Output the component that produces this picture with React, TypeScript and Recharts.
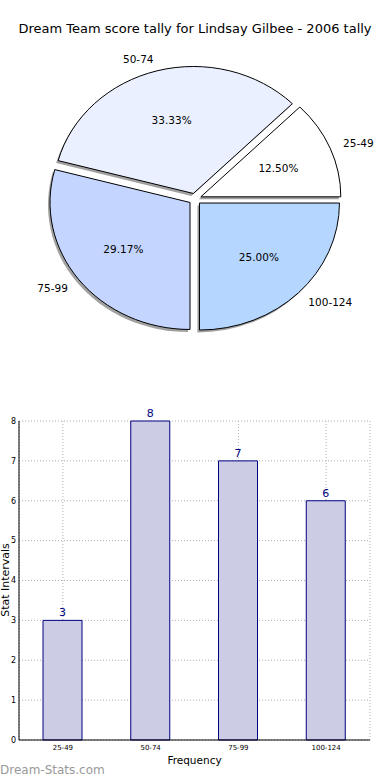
import {
  PieChart,
  Pie,
  BarChart,
  Bar,
  XAxis,
  YAxis,
  CartesianGrid,
  LabelList,
} from "recharts";

const categories = ["25-49", "50-74", "75-99", "100-124"];
const counts = [3, 8, 7, 6];
const pieColors = ["#ffffff", "#eaf0ff", "#c4d6ff", "#b4d6ff"];
const yTicks = [0, 1, 2, 3, 4, 5, 6, 7, 8];

const pieData = categories.map((name, i) => ({
  name,
  value: counts[i],
  fill: pieColors[i],
}));
const barData = categories.map((name, i) => ({ name, value: counts[i] }));

const FONT = "'DejaVu Sans', sans-serif";
const RAD = Math.PI / 180;
const SQUASH = 127 / 140; // pie is drawn slightly flattened
const EXPLODE = 0.045;

function wedgePath(p: any, shiftX = 0, shiftY = 0) {
  const rx = p.outerRadius;
  const ry = p.outerRadius * SQUASH;
  const mid = ((p.startAngle + p.endAngle) / 2) * RAD;
  const cx = p.cx + EXPLODE * rx * Math.cos(mid) + shiftX;
  const cy = p.cy - EXPLODE * ry * Math.sin(mid) + shiftY;
  const a0 = p.startAngle * RAD;
  const a1 = p.endAngle * RAD;
  const x0 = cx + rx * Math.cos(a0);
  const y0 = cy - ry * Math.sin(a0);
  const x1 = cx + rx * Math.cos(a1);
  const y1 = cy - ry * Math.sin(a1);
  const large = p.endAngle - p.startAngle > 180 ? 1 : 0;
  return `M${cx},${cy} L${x0},${y0} A${rx},${ry} 0 ${large} 0 ${x1},${y1} Z`;
}

const Wedge = (p: any) => (
  <path d={wedgePath(p)} fill={p.fill} stroke="#000" strokeWidth={1} />
);

const Shadow = (p: any) => (
  <path d={wedgePath(p, -2, 2.5)} fill="#6e6e6e" fillOpacity={0.65} />
);

const renderLabel = (p: any) => {
  const rx = p.outerRadius;
  const ry = p.outerRadius * SQUASH;
  const mid = p.midAngle * RAD;
  const cx = p.cx + EXPLODE * rx * Math.cos(mid);
  const cy = p.cy - EXPLODE * ry * Math.sin(mid);
  const lx = cx + 1.1 * rx * Math.cos(mid);
  const ly = cy - 1.1 * ry * Math.sin(mid);
  const px = cx + 0.6 * rx * Math.cos(mid);
  const py = cy - 0.6 * ry * Math.sin(mid);
  return (
    <g key={p.name}>
      <text
        x={lx}
        y={ly}
        textAnchor={Math.cos(mid) > 0 ? "start" : "end"}
        dominantBaseline="central"
        fontSize={10.5}
        fontFamily={FONT}
        fill="#000"
      >
        {p.name}
      </text>
      <text
        x={px}
        y={py}
        textAnchor="middle"
        dominantBaseline="central"
        fontSize={10.5}
        fontFamily={FONT}
        fill="#000"
      >
        {(p.percent * 100).toFixed(2)}%
      </text>
    </g>
  );
};

export default function App() {
  return (
    <div
      style={{
        position: "absolute",
        left: 0,
        top: 0,
        width: 390,
        height: 780,
        background: "#fff",
        overflow: "hidden",
        fontFamily: FONT,
      }}
    >
      <div
        style={{
          position: "absolute",
          left: 0,
          top: 21,
          width: 390,
          textAlign: "center",
          fontSize: 13,
          color: "#000",
        }}
      >
        Dream Team score tally for Lindsay Gilbee - 2006 tally
      </div>

      <div style={{ position: "absolute", left: 0, top: 40 }}>
        <PieChart width={390} height={330}>
          <Pie
            data={pieData}
            dataKey="value"
            nameKey="name"
            cx={190}
            cy={154}
            outerRadius={140}
            startAngle={0}
            endAngle={360}
            stroke="none"
            shape={Shadow}
            isAnimationActive={false}
          />
          <Pie
            data={pieData}
            dataKey="value"
            nameKey="name"
            cx={190}
            cy={154}
            outerRadius={140}
            startAngle={0}
            endAngle={360}
            shape={Wedge}
            label={renderLabel}
            labelLine={false}
            isAnimationActive={false}
          />
        </PieChart>
      </div>

      <div
        style={{
          position: "absolute",
          left: 5,
          top: 580,
          transform: "translate(-50%, -50%) rotate(-90deg)",
          fontSize: 11,
          whiteSpace: "nowrap",
          color: "#000",
        }}
      >
        Stat Intervals
      </div>

      <div style={{ position: "absolute", left: 0, top: 400 }}>
        <BarChart
          width={390}
          height={380}
          data={barData}
          margin={{ top: 21, right: 20, left: 7, bottom: 10 }}
          barCategoryGap={0}
        >
          <CartesianGrid stroke="#b0b0b0" strokeDasharray="1 2" />
          <XAxis
            dataKey="name"
            height={30}
            tick={{ fontSize: 7, fill: "#000", fontFamily: FONT }}
            tickLine={false}
            tickSize={0}
            tickMargin={5}
            axisLine={{ stroke: "#000" }}
            label={{
              value: "Frequency",
              position: "insideBottom",
              offset: 6,
              fontSize: 10.5,
              fill: "#000",
              fontFamily: FONT,
            }}
          />
          <XAxis
            xAxisId="top"
            orientation="top"
            dataKey="name"
            height={0}
            tick={false}
            tickLine={false}
            axisLine={{ stroke: "#000" }}
          />
          <YAxis
            width={12}
            domain={[0, 8]}
            ticks={yTicks}
            interval={0}
            tick={{ fontSize: 8, fill: "#000", fontFamily: FONT }}
            tickLine={false}
            tickSize={0}
            tickMargin={3}
            axisLine={{ stroke: "#000" }}
          />
          <YAxis
            yAxisId="right"
            orientation="right"
            width={0}
            domain={[0, 8]}
            tick={false}
            tickLine={false}
            axisLine={{ stroke: "#000" }}
          />
          <Bar
            dataKey="value"
            barSize={39}
            fill="#ccccE5"
            stroke="#000080"
            strokeWidth={1}
            isAnimationActive={false}
          >
            <LabelList
              dataKey="value"
              position="top"
              offset={4}
              fill="#000080"
              fontSize={11}
              fontFamily={FONT}
            />
          </Bar>
        </BarChart>
      </div>

      <div
        style={{
          position: "absolute",
          left: 0,
          top: 763,
          fontSize: 12,
          color: "#999",
        }}
      >
        Dream-Stats.com
      </div>
    </div>
  );
}
